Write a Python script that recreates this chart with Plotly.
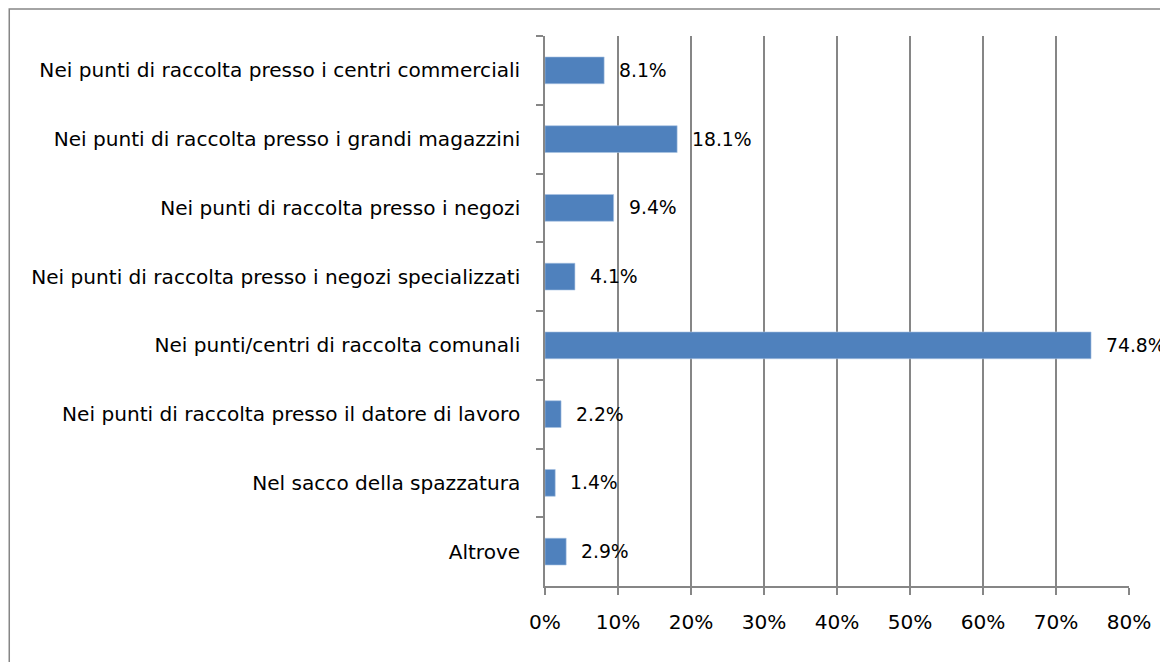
import plotly.graph_objects as go

categories = [
    "Nei punti di raccolta presso i centri commerciali",
    "Nei punti di raccolta presso i grandi magazzini",
    "Nei punti di raccolta presso i negozi",
    "Nei punti di raccolta presso i negozi specializzati",
    "Nei punti/centri di raccolta comunali",
    "Nei punti di raccolta presso il datore di lavoro",
    "Nel sacco della spazzatura",
    "Altrove",
]
values = [8.1, 18.1, 9.4, 4.1, 74.8, 2.2, 1.4, 2.9]
x_ticks = [0, 10, 20, 30, 40, 50, 60, 70, 80]

FONT = "DejaVu Sans"
FS = 20.1
LABEL_FS = 18.8
GRAY = "#868686"

# page body has an 8px margin; compensate so marks land where the reference has them
OFF = 8
W, H = 1168 - OFF, 662 - OFF

fig = go.Figure()
fig.add_trace(go.Bar(
    y=categories, x=values, orientation="h",
    marker=dict(color="#4F81BD", line=dict(color="#A9C2E3", width=0.6)),
    hoverinfo="skip",
))

for c, v in zip(categories, values):
    fig.add_annotation(
        x=v, y=c, xref="x", yref="y", text=f"{v:.1f}%",
        showarrow=False, xanchor="left", xshift=13,
        font=dict(family=FONT, size=LABEL_FS, color="#000"),
    )

L, R, T, B = 545 - OFF, 38.5, 36 - OFF, 75.5
pw = W - L - R
ph = H - T - B
fig.add_shape(type="rect", xref="paper", yref="paper",
              x0=(0.8 - L) / pw, x1=(W + 20 - L) / pw,
              y0=((H - B) - (H + 20)) / ph, y1=((H - B) - (9 - OFF)) / ph,
              line=dict(color=GRAY, width=1.5), fillcolor="rgba(0,0,0,0)", layer="below")

fig.update_layout(
    width=W, height=H,
    margin=dict(l=L, r=R, t=T, b=B, pad=0),
    paper_bgcolor="white", plot_bgcolor="white",
    showlegend=False, bargap=0.61,
    font=dict(family=FONT, size=FS, color="#000"),
    xaxis=dict(
        range=[0, 80], tickvals=x_ticks, ticktext=[f"{t}%" for t in x_ticks],
        showgrid=True, gridcolor=GRAY, gridwidth=1.5,
        showline=True, linecolor=GRAY, linewidth=1.5,
        ticks="outside", ticklen=7, tickcolor=GRAY, tickwidth=1.5,
        zeroline=False, ticklabelstandoff=10,
    ),
    yaxis=dict(
        autorange="reversed", type="category",
        showline=True, linecolor=GRAY, linewidth=1.5,
        ticks="outside", ticklen=7, tickcolor=GRAY, tickwidth=1.5,
        tickson="boundaries", showgrid=False, ticklabelstandoff=19,
    ),
)

fig.write_html("out.html")
